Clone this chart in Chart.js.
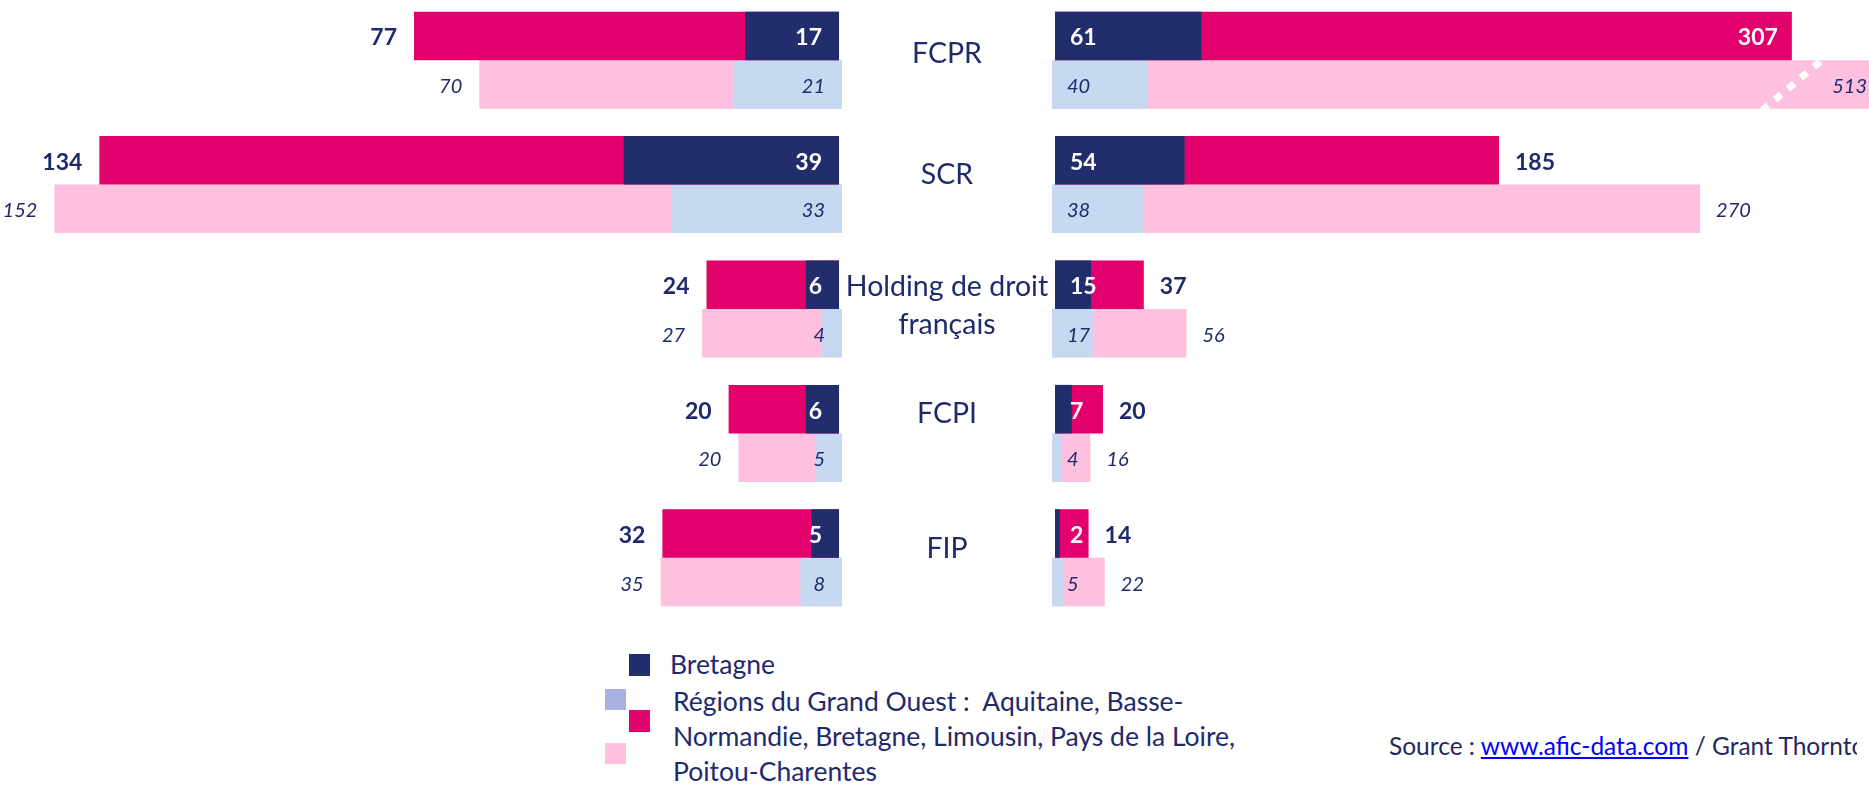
<!DOCTYPE html>
<html>
<head>
<meta charset="utf-8">
<script src="https://cdn.jsdelivr.net/npm/chart.js@4.4.0/dist/chart.umd.min.js"></script>
<style>
  html, body { margin: 0; padding: 0; background: #fff; }
  #page { position: relative; width: 1869px; height: 785px; overflow: hidden; font-family: Lato, sans-serif; color: #1f2a6c; }
  #leftchart { position: absolute; left: 0; top: -2px; }
  #rightchart { position: absolute; left: 842px; top: -2px; }
  .sw { position: absolute; width: 21px; height: 21px; }
  .legtext { position: absolute; font-size: 26.5px; line-height: 35px; white-space: nowrap; }
  #source { position: absolute; left: 1389px; top: 731px; width: 468px; overflow: hidden; font-size: 24.5px; white-space: nowrap; color: #1f2a5c; }
  #source a { color: #0000ff; text-decoration: underline; }
</style>
</head>
<body>
<div id="page">
  <canvas id="leftchart" width="842" height="622"></canvas>
  <canvas id="rightchart" width="1027" height="622"></canvas>

  <div class="sw" style="left:629px; top:654px; height:22px; background:#222d6d;"></div>
  <div class="legtext" style="left:670px; top:647px;">Bretagne</div>
  <div class="sw" style="left:605px; top:689px; background:#a7b1e3;"></div>
  <div class="sw" style="left:629px; top:710px; height:22px; background:#e2006d;"></div>
  <div class="sw" style="left:605px; top:743px; background:#fdc0de;"></div>
  <div class="legtext" style="left:673px; top:684px;">Régions du Grand Ouest :&nbsp; Aquitaine, Basse-<br>Normandie, Bretagne, Limousin, Pays de la Loire,<br>Poitou-Charentes</div>

  <div id="source">Source : <a href="#">www.afic-data.com</a> / Grant Thornton</div>
</div>

<script>
// categories (middle labels)
const categories = ['FCPR', 'SCR', ['Holding de droit', 'français'], 'FCPI', 'FIP'];

// left panel
const bretagneLeftTop = [17, 39, 6, 6, 5];
const ouestLeftTop = [77, 134, 24, 20, 32];
const bretagneLeftBottom = [21, 33, 4, 5, 8];
const ouestLeftBottom = [70, 152, 27, 20, 35];

// right panel
const bretagneRightTop = [61, 54, 15, 7, 2];
const ouestRightTop = [307, 185, 37, 20, 14];
const bretagneRightBottom = [40, 38, 17, 4, 5];
const ouestRightBottom = [513, 270, 56, 16, 22];

const navy = '#222d6d';
const magenta = '#e2006d';
const lightBlue = '#c6d9f1';
const pink = '#fdc0de';
const textColor = '#1f2a6c';

// draws the numbers on / next to each bar
const valueLabels = {
    id: 'valueLabels',
    afterDatasetsDraw(chart, args, opts) {
        const ctx = chart.ctx;
        const area = chart.chartArea;
        const dir = opts.dir;
        chart.data.datasets.forEach((ds, di) => {
            const meta = chart.getDatasetMeta(di);
            const atBase = di % 2 === 0;
            const top = di < 2;
            ctx.save();
            ctx.font = top ? 'bold 23px Lato' : 'italic 20px Lato';
            ctx.textBaseline = 'middle';
            meta.data.forEach((bar, i) => {
                const text = String(ds.data[i]);
                let x, align, color = textColor;
                if (atBase) {
                    x = bar.base + dir * opts.inset;
                    align = dir < 0 ? 'right' : 'left';
                    if (top) color = '#ffffff';
                } else {
                    const clipped = dir > 0 ? bar.x > area.right : bar.x < area.left;
                    const end = Math.max(area.left, Math.min(area.right, bar.x));
                    const w = ctx.measureText(text).width;
                    const outside = dir > 0 ? end + opts.gap + w < area.right - 30 : end - opts.gap - w > area.left;
                    if (outside) {
                        x = end + dir * opts.gap;
                        align = dir < 0 ? 'right' : 'left';
                    } else {
                        x = end - dir * (clipped ? 2 : 14);
                        align = dir < 0 ? 'left' : 'right';
                        if (top) color = '#ffffff';
                    }
                }
                ctx.textAlign = align;
                ctx.fillStyle = color;
                ctx.fillText(text, x, bar.y + 2);
            });
            ctx.restore();
        });
    }
};

// white dashed break on bars running past the axis end
const axisBreak = {
    id: 'axisBreak',
    afterDatasetsDraw(chart) {
        const ctx = chart.ctx;
        const area = chart.chartArea;
        chart.data.datasets.forEach((ds, di) => {
            const meta = chart.getDatasetMeta(di);
            meta.data.forEach((bar) => {
                if (bar.x <= area.right) return;
                const cx = area.right - 76;
                const t = bar.y - bar.height / 2, b = bar.y + bar.height / 2;
                ctx.save();
                ctx.beginPath();
                ctx.rect(area.left, t, area.right - area.left, b - t);
                ctx.clip();
                ctx.strokeStyle = '#ffffff';
                ctx.lineWidth = 7;
                ctx.setLineDash([8, 9]);
                ctx.beginPath();
                ctx.moveTo(cx - 31, b + 2);
                ctx.lineTo(cx + 31, t - 2);
                ctx.stroke();
                ctx.restore();
            });
        });
    }
};

// category names in the gap between both panels
const categoryLabels = {
    id: 'categoryLabels',
    afterDraw(chart, args, opts) {
        const ctx = chart.ctx;
        const yScale = chart.scales.y;
        const cx = chart.chartArea.left / 2;
        ctx.save();
        ctx.font = '28.5px Lato';
        ctx.fillStyle = textColor;
        ctx.textAlign = 'center';
        ctx.textBaseline = 'middle';
        categories.forEach((c, i) => {
            const lines = Array.isArray(c) ? c : [c];
            const y = yScale.getPixelForValue(i) + opts.nudge[i];
            lines.forEach((line, k) => {
                ctx.fillText(line, cx, y + (k - (lines.length - 1) / 2) * 38);
            });
        });
        ctx.restore();
    }
};

function makeDatasets(bTop, oTop, bBottom, oBottom) {
    const common = { borderWidth: 0, barPercentage: 1.0, categoryPercentage: 0.78 };
    return [
        Object.assign({ label: 'Bretagne', data: bTop, backgroundColor: navy, stack: 'top', xAxisID: 'x' }, common),
        Object.assign({ label: 'Grand Ouest', data: oTop, backgroundColor: magenta, stack: 'top', xAxisID: 'x' }, common),
        Object.assign({ label: 'Bretagne', data: bBottom, backgroundColor: lightBlue, stack: 'bottom', xAxisID: 'x2' }, common),
        Object.assign({ label: 'Grand Ouest', data: oBottom, backgroundColor: pink, stack: 'bottom', xAxisID: 'x2' }, common),
    ];
}

const leftchart = new Chart(document.getElementById('leftchart').getContext('2d'), {
    type: 'bar',
    data: {
        labels: categories,
        datasets: makeDatasets(bretagneLeftTop, ouestLeftTop, bretagneLeftBottom, ouestLeftBottom),
    },
    options: {
        indexAxis: 'y',
        responsive: false,
        animation: false,
        layout: { padding: 0 },
        plugins: {
            legend: { display: false },
            tooltip: { enabled: false },
            valueLabels: { dir: -1, inset: 17, gap: 17 },
        },
        scales: {
            y: { display: false },
            x: { type: 'linear', display: false, reverse: true, stacked: false, min: -0.54, max: 152 },
            x2: { type: 'linear', display: false, reverse: true, stacked: false, min: 0, max: 162.5 },
        },
    },
    plugins: [valueLabels],
});

const rightchart = new Chart(document.getElementById('rightchart').getContext('2d'), {
    type: 'bar',
    data: {
        labels: categories,
        datasets: makeDatasets(bretagneRightTop, ouestRightTop, bretagneRightBottom, ouestRightBottom),
    },
    options: {
        indexAxis: 'y',
        responsive: false,
        animation: false,
        layout: { padding: { left: 210 } },
        plugins: {
            legend: { display: false },
            tooltip: { enabled: false },
            valueLabels: { dir: 1, inset: 15, gap: 16 },
            categoryLabels: { nudge: [-6, -10, -3, -20, -9] },
        },
        scales: {
            y: { display: false },
            x: { type: 'linear', display: false, stacked: false, min: -1.25, max: 339.15 },
            x2: { type: 'linear', display: false, stacked: false, min: 0, max: 340.4 },
        },
    },
    plugins: [valueLabels, axisBreak, categoryLabels],
});
</script>
</body>
</html>
